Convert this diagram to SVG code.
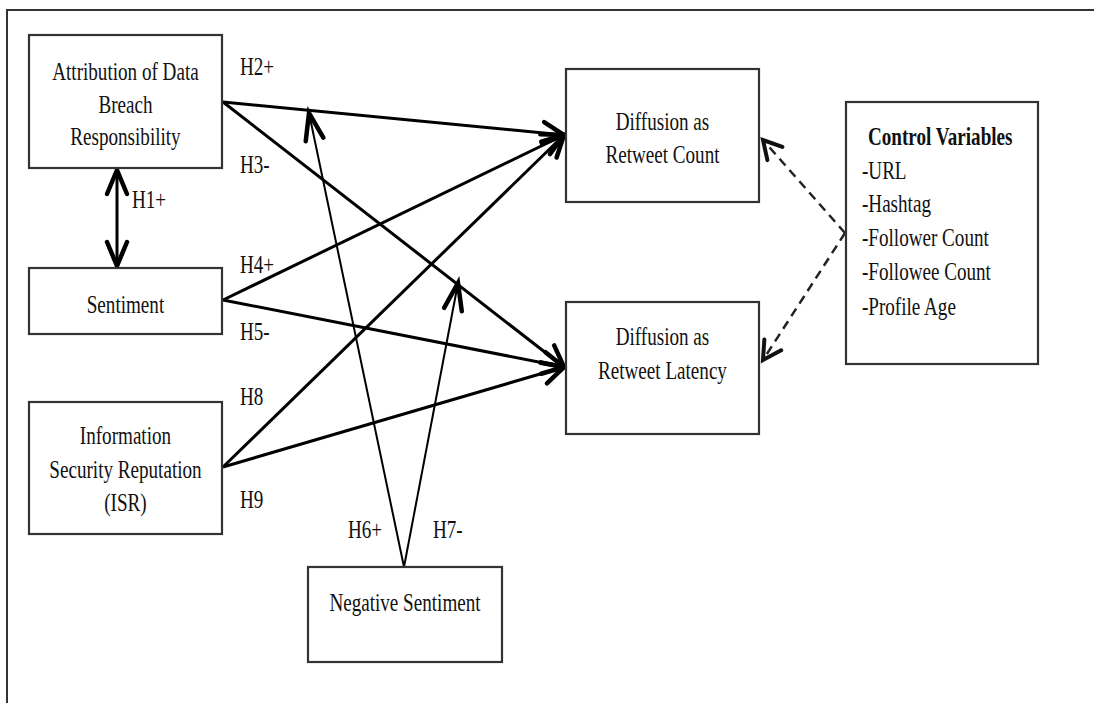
<svg xmlns="http://www.w3.org/2000/svg" width="1094" height="703" viewBox="0 0 1094 703">
  <style>
    .frame { fill: none; stroke: #333; stroke-width: 2; }
    .box { fill: #fff; stroke: #333; stroke-width: 2.2; }
    .lbl { font-family: "Liberation Serif", "Times New Roman", serif; font-size: 25.5px; fill: #111; }
    .mid { text-anchor: middle; }
    .bold { font-weight: bold; }
    .path { fill: none; stroke: #000; stroke-width: 3; }
    .thin { fill: none; stroke: #000; stroke-width: 2; }
    .dash { fill: none; stroke: #222; stroke-width: 2.5; stroke-dasharray: 9 6; }
  </style>
  <defs>
    <marker id="head" markerUnits="userSpaceOnUse" viewBox="-30 -15 34 30" markerWidth="34" markerHeight="30" refX="0" refY="0" orient="auto" overflow="visible">
      <path d="M-21,-11 L0,0 L-21,11" fill="none" stroke="#000" stroke-width="4.5" stroke-linecap="round"/>
    </marker>
    <marker id="headBi" markerUnits="userSpaceOnUse" viewBox="-30 -15 34 30" markerWidth="34" markerHeight="30" refX="0" refY="0" orient="auto-start-reverse" overflow="visible">
      <path d="M-24,-10 L0,0 L-24,10" fill="none" stroke="#000" stroke-width="4.5" stroke-linecap="round"/>
    </marker>
    <marker id="headMod" markerUnits="userSpaceOnUse" viewBox="-30 -15 34 30" markerWidth="34" markerHeight="30" refX="0" refY="0" orient="auto" overflow="visible">
      <path d="M-27,-9 L0,0 L-27,9" fill="none" stroke="#000" stroke-width="4.5" stroke-linecap="round"/>
    </marker>
    <marker id="headDash" markerUnits="userSpaceOnUse" viewBox="-30 -15 34 30" markerWidth="34" markerHeight="30" refX="0" refY="0" orient="auto" overflow="visible">
      <path d="M-18,-10 L0,0 L-18,10" fill="none" stroke="#111" stroke-width="4" stroke-linecap="round"/>
    </marker>
  </defs>

  <rect width="1094" height="703" fill="#fff"/>
  <!-- figure frame (top and left edges visible) -->
  <path class="frame" d="M7,703 L7,10 L1094,10"/>

  <!-- connectors -->
  <g id="connectors">
    <!-- H1: attribution <-> sentiment -->
    <line class="path" x1="117" y1="170" x2="117" y2="266" marker-start="url(#headBi)" marker-end="url(#headBi)"/>
    <!-- H2, H3 -->
    <line class="path" x1="223" y1="102" x2="564" y2="135" marker-end="url(#head)"/>
    <line class="path" x1="223" y1="102" x2="564" y2="367" marker-end="url(#head)"/>
    <!-- H4, H5 -->
    <line class="path" x1="223" y1="300" x2="564" y2="135" marker-end="url(#head)"/>
    <line class="path" x1="223" y1="300" x2="564" y2="367" marker-end="url(#head)"/>
    <!-- H8, H9 -->
    <line class="path" x1="223" y1="467" x2="564" y2="135" marker-end="url(#head)"/>
    <line class="path" x1="223" y1="467" x2="564" y2="367" marker-end="url(#head)"/>
    <!-- H6, H7: moderation by negative sentiment -->
    <line class="thin" x1="404" y1="567" x2="309" y2="113" marker-end="url(#headMod)"/>
    <line class="thin" x1="404" y1="567" x2="458" y2="283" marker-end="url(#headMod)"/>
    <!-- control variables -->
    <line class="dash" x1="845" y1="233" x2="763" y2="140" marker-end="url(#headDash)"/>
    <line class="dash" x1="845" y1="233" x2="763" y2="360" marker-end="url(#headDash)"/>
  </g>

  <!-- nodes -->
  <g id="attribution">
    <rect class="box" x="29" y="35" width="193" height="133"/>
  </g>
  <g id="sentiment">
    <rect class="box" x="29" y="268" width="193" height="66"/>
  </g>
  <g id="isr">
    <rect class="box" x="29" y="402" width="193" height="132"/>
  </g>
  <g id="negative-sentiment">
    <rect class="box" x="308" y="567" width="194" height="95"/>
  </g>
  <g id="retweet-count">
    <rect class="box" x="566" y="69" width="193" height="133"/>
  </g>
  <g id="retweet-latency">
    <rect class="box" x="566" y="302" width="193" height="132"/>
  </g>
  <g id="controls">
    <rect class="box" x="846" y="102" width="192" height="262"/>
  </g>

  <!-- all text set in a horizontally condensed serif -->
  <g transform="scale(0.75,1)">
    <g class="lbl mid">
      <text x="167.3" y="80">Attribution of Data</text>
      <text x="167.3" y="113">Breach</text>
      <text x="167.3" y="145">Responsibility</text>
      <text x="167.3" y="313">Sentiment</text>
      <text x="167.3" y="444">Information</text>
      <text x="167.3" y="478">Security Reputation</text>
      <text x="167.3" y="511">(ISR)</text>
      <text x="540" y="611">Negative Sentiment</text>
      <text x="883.3" y="130">Diffusion as</text>
      <text x="883.3" y="163">Retweet Count</text>
      <text x="883.3" y="345">Diffusion as</text>
      <text x="883.3" y="379">Retweet Latency</text>
    </g>
    <g class="lbl">
      <text class="bold" x="1157.3" y="145">Control Variables</text>
      <text x="1149.3" y="179">-URL</text>
      <text x="1149.3" y="212">-Hashtag</text>
      <text x="1149.3" y="246">-Follower Count</text>
      <text x="1149.3" y="280">-Followee Count</text>
      <text x="1149.3" y="315">-Profile Age</text>
    </g>
    <g class="lbl">
      <text x="320" y="75">H2+</text>
      <text x="320" y="173">H3-</text>
      <text x="176" y="208">H1+</text>
      <text x="320" y="273">H4+</text>
      <text x="320" y="340">H5-</text>
      <text x="320" y="405">H8</text>
      <text x="320" y="508">H9</text>
      <text x="464" y="538">H6+</text>
      <text x="577.3" y="538">H7-</text>
    </g>
  </g>
</svg>
